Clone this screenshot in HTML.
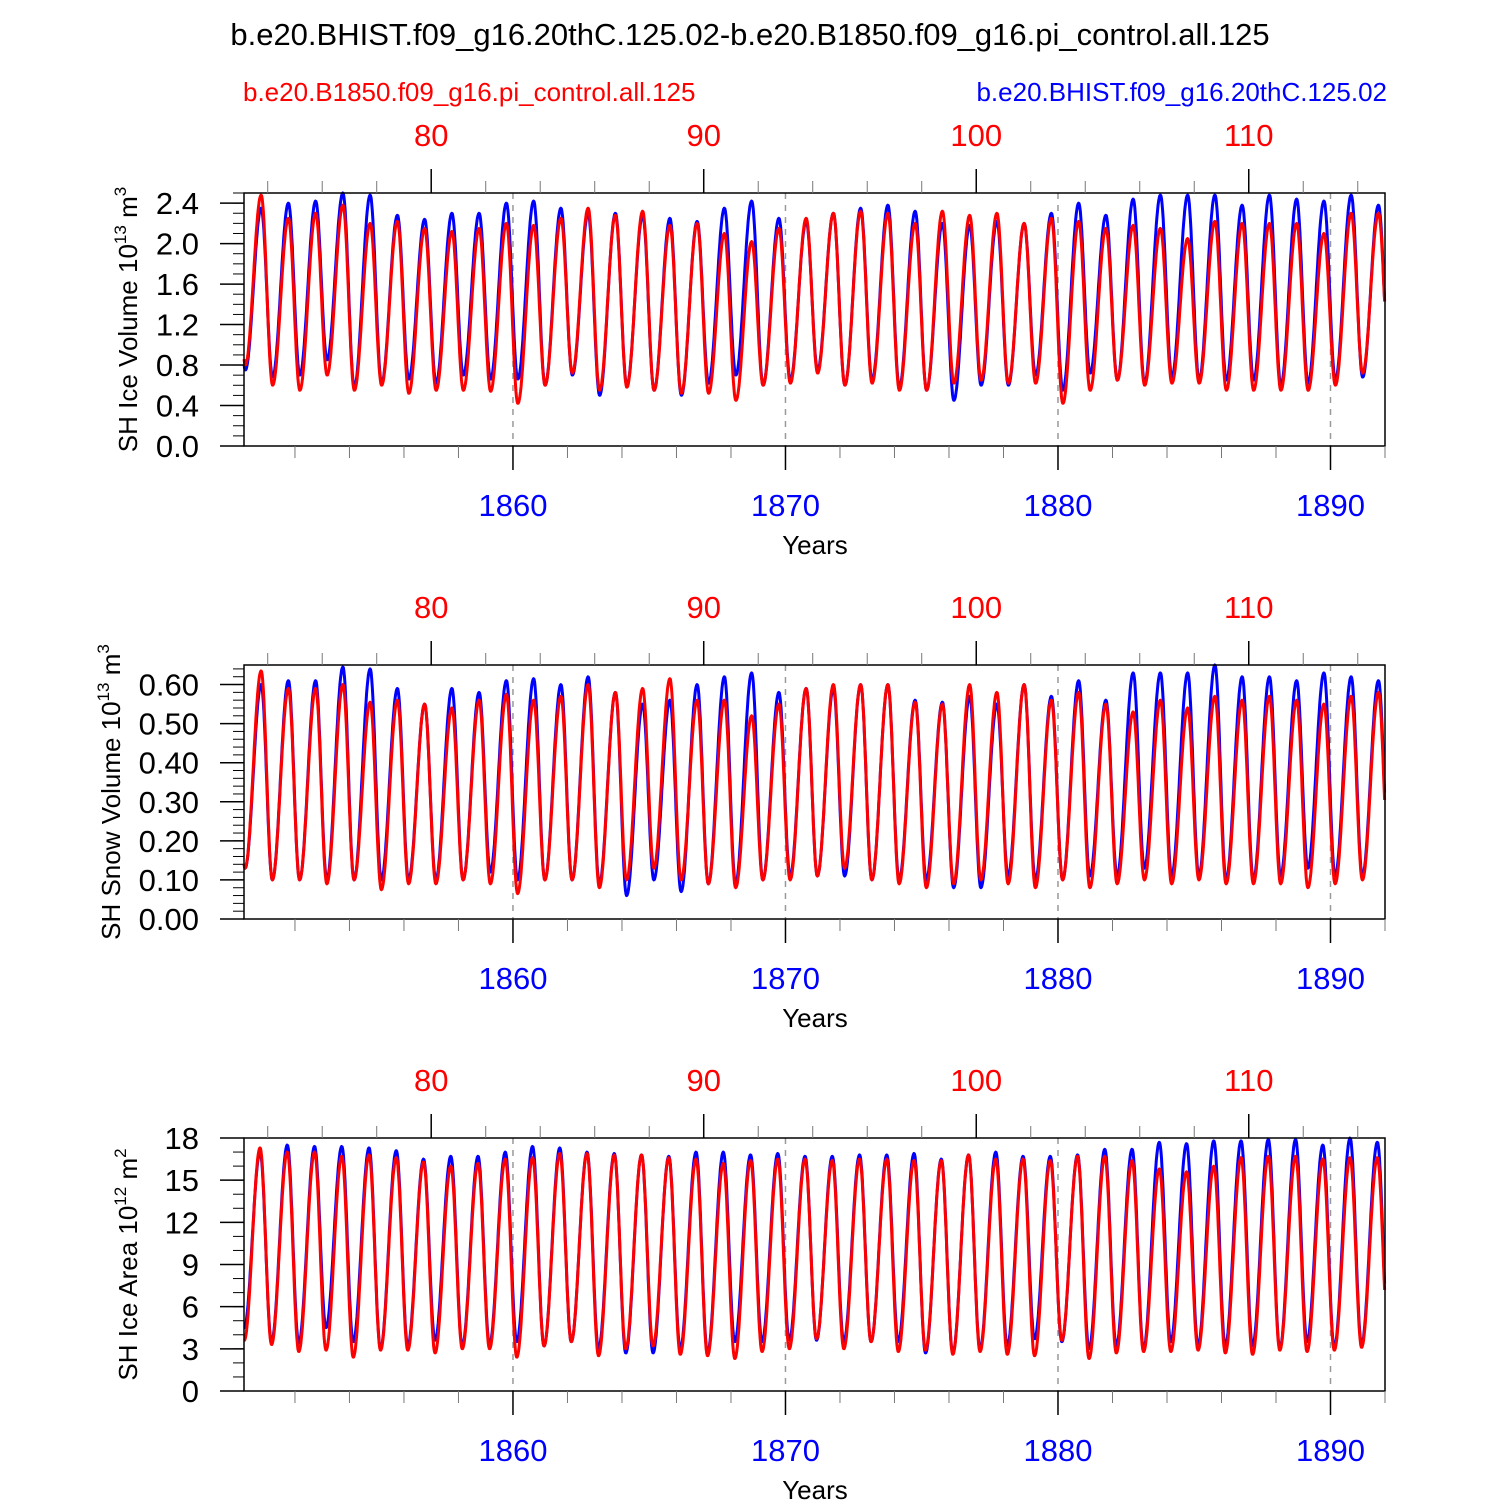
<!DOCTYPE html>
<html><head><meta charset="utf-8"><style>
body{margin:0;background:#fff;}
svg{display:block;font-family:"Liberation Sans",sans-serif;}
</style></head><body>
<svg id="chart" width="1500" height="1500" viewBox="0 0 1500 1500">
<text x="750" y="45" font-size="31" text-anchor="middle">b.e20.BHIST.f09_g16.20thC.125.02-b.e20.B1850.f09_g16.pi_control.all.125</text>
<text x="243" y="101" font-size="26" fill="#ff0000">b.e20.B1850.f09_g16.pi_control.all.125</text>
<text x="1387" y="101" font-size="26" fill="#0000ff" text-anchor="end">b.e20.BHIST.f09_g16.20thC.125.02</text>
</svg>
<script>
const startYear = 1850;
// yearly peak / trough values (one per year 1850..1891)
const volBluePk=[2.35,2.4,2.42,2.5,2.48,2.28,2.24,2.3,2.3,2.4,2.42,2.35,2.3,2.3,2.28,2.25,2.22,2.35,2.42,2.25,2.22,2.3,2.35,2.38,2.32,2.2,2.18,2.22,2.2,2.3,2.4,2.28,2.44,2.48,2.48,2.48,2.38,2.48,2.44,2.42,2.48,2.38];
const volRedPk=[2.48,2.25,2.3,2.38,2.2,2.22,2.15,2.12,2.15,2.2,2.18,2.25,2.35,2.28,2.32,2.18,2.2,2.1,2.02,2.15,2.25,2.3,2.32,2.3,2.2,2.32,2.28,2.3,2.2,2.25,2.22,2.15,2.18,2.15,2.05,2.22,2.2,2.2,2.2,2.1,2.3,2.3];
const volBlueTr=[0.75,0.68,0.7,0.85,0.58,0.62,0.66,0.62,0.7,0.66,0.66,0.6,0.7,0.5,0.6,0.55,0.5,0.62,0.7,0.6,0.65,0.75,0.6,0.65,0.58,0.55,0.45,0.6,0.6,0.7,0.55,0.72,0.65,0.62,0.68,0.65,0.65,0.65,0.6,0.62,0.65,0.68];
const volRedTr=[0.8,0.6,0.55,0.7,0.55,0.6,0.52,0.55,0.55,0.54,0.42,0.6,0.72,0.55,0.58,0.55,0.52,0.52,0.45,0.6,0.62,0.72,0.6,0.62,0.55,0.55,0.62,0.65,0.62,0.62,0.42,0.55,0.65,0.6,0.62,0.62,0.55,0.55,0.55,0.55,0.6,0.72];
const snowBluePk=[0.6,0.61,0.61,0.645,0.64,0.59,0.55,0.59,0.58,0.61,0.615,0.6,0.62,0.58,0.55,0.56,0.6,0.62,0.63,0.58,0.59,0.59,0.6,0.6,0.56,0.555,0.57,0.55,0.6,0.57,0.61,0.56,0.63,0.63,0.63,0.65,0.62,0.62,0.61,0.63,0.62,0.61];
const snowRedPk=[0.635,0.59,0.59,0.6,0.555,0.56,0.55,0.54,0.56,0.575,0.56,0.57,0.6,0.58,0.59,0.615,0.56,0.56,0.52,0.55,0.59,0.6,0.6,0.6,0.555,0.55,0.6,0.58,0.6,0.56,0.58,0.55,0.53,0.56,0.54,0.57,0.56,0.57,0.56,0.55,0.57,0.58];
const snowBlueTr=[0.13,0.1,0.1,0.1,0.1,0.1,0.1,0.1,0.1,0.12,0.1,0.1,0.1,0.09,0.06,0.1,0.07,0.09,0.09,0.1,0.11,0.11,0.11,0.1,0.1,0.1,0.08,0.08,0.11,0.1,0.1,0.11,0.11,0.13,0.11,0.11,0.1,0.1,0.11,0.13,0.11,0.11];
const snowRedTr=[0.13,0.1,0.1,0.09,0.1,0.075,0.09,0.09,0.1,0.09,0.065,0.1,0.1,0.08,0.1,0.13,0.1,0.09,0.08,0.1,0.1,0.11,0.13,0.1,0.09,0.08,0.09,0.1,0.09,0.08,0.1,0.08,0.09,0.1,0.09,0.1,0.09,0.09,0.09,0.08,0.09,0.1];
const areaBluePk=[17.0,17.5,17.4,17.4,17.3,17.1,16.5,16.7,16.7,17.0,17.4,17.3,17.0,16.9,16.8,16.7,17.0,17.0,16.8,16.9,16.7,16.7,16.8,16.8,16.9,16.5,16.8,17.0,16.7,16.7,16.8,17.2,17.2,17.7,17.6,17.8,17.8,17.9,17.9,17.5,18.0,17.7];
const areaRedPk=[17.3,17.0,17.0,16.7,16.8,16.6,16.3,16.0,16.2,16.5,16.6,16.9,16.9,16.8,16.8,16.6,16.5,16.2,16.4,16.5,16.5,16.4,16.5,16.5,16.4,16.4,16.8,16.5,16.5,16.4,16.7,16.7,16.4,15.8,15.6,16.0,16.6,16.7,16.7,16.5,16.6,16.6];
const areaBlueTr=[4.5,3.5,3.4,4.5,3.5,3.0,3.2,3.6,3.2,3.3,3.5,3.2,3.5,3.0,2.7,2.7,3.0,2.7,3.5,3.5,3.6,3.6,3.5,3.5,3.5,2.7,2.7,3.0,3.2,3.7,3.5,3.0,3.2,3.0,3.5,3.2,3.2,3.2,3.0,3.5,3.1,3.3];
const areaRedTr=[3.6,3.3,2.8,2.9,2.4,2.9,2.9,2.7,3.0,3.0,2.4,3.2,3.5,2.5,3.0,3.2,2.6,2.5,2.3,2.8,3.0,3.7,3.0,3.5,2.8,2.9,2.6,2.8,2.6,2.5,3.6,2.3,2.7,2.8,2.8,2.9,2.7,2.6,2.9,2.8,2.9,3.1];
const bottomTicks=[1860,1870,1880,1890];
const topTicks=[80,90,100,110];
const panels=[
 {top:193,bottom:446,ymax:2.5,yTicks:[0,0.4,0.8,1.2,1.6,2.0,2.4],yMinor:0.1,dec:1,label:"SH Ice Volume 10",sup:"13",unit:" m",usup:"3",blueP:volBluePk,blueT:volBlueTr,redP:volRedPk,redT:volRedTr,tr:0.18,pk:0.76,name:"ice-volume"},
 {top:665,bottom:919,ymax:0.65,yTicks:[0,0.1,0.2,0.3,0.4,0.5,0.6],yMinor:0.02,dec:2,label:"SH Snow Volume 10",sup:"13",unit:" m",usup:"3",blueP:snowBluePk,blueT:snowBlueTr,redP:snowRedPk,redT:snowRedTr,tr:0.17,pk:0.76,name:"snow-volume"},
 {top:1138,bottom:1391,ymax:18,yTicks:[0,3,6,9,12,15,18],yMinor:1,dec:0,label:"SH Ice Area 10",sup:"12",unit:" m",usup:"2",blueP:areaBluePk,blueT:areaBlueTr,redP:areaRedPk,redT:areaRedTr,tr:0.14,pk:0.72,name:"ice-area"}
];
const X0=244,X1=1385,YMIN=1850.13,YMAX=1892.0,TOPOFF=1777;
const xs=y=>X0+(y-YMIN)/(YMAX-YMIN)*(X1-X0);
const svg=document.getElementById('chart');
const NS='http://www.w3.org/2000/svg';
function mk(tag,attrs,parent){const e=document.createElementNS(NS,tag);for(const k in attrs)e.setAttribute(k,attrs[k]);(parent||svg).appendChild(e);return e;}
function series(P,T,p){
  const n=P.length;
  const ex=[[startYear-1+p.pk,P[0]]];
  for(let i=0;i<n;i++){ex.push([startYear+i+p.tr,T[i]]);ex.push([startYear+i+p.pk,P[i]]);}
  ex.push([startYear+n+p.tr,T[n-1]]);
  const pts=[];
  for(let t=YMIN;t<=YMAX+1e-6;t+=1/48){
    let k=0;while(k<ex.length-2&&ex[k+1][0]<t)k++;
    const a=ex[k],b=ex[k+1];
    const f=Math.max(0,Math.min(1,(t-a[0])/(b[0]-a[0])));
    pts.push([t,a[1]+(b[1]-a[1])*(1-Math.cos(Math.PI*f))/2]);
  }
  return pts;
}
panels.forEach((p,pi)=>{
  const ys=v=>p.bottom-v/p.ymax*(p.bottom-p.top);
  const g=mk('g',{});
  
  
  bottomTicks.forEach(t=>{const l=mk('line',{x1:xs(t),x2:xs(t),y1:p.top,y2:p.bottom,stroke:'#999','stroke-width':1.5,'stroke-dasharray':'6,6'},g);
    });
  [['blue',p.blueP,p.blueT,'#0000ff'],['red',p.redP,p.redT,'#ff0000']].forEach(s=>{
    const pts=series(s[1],s[2],p);
    const d=pts.map((q,i)=>(i?'L':'M')+xs(q[0]).toFixed(1)+','+ys(q[1]).toFixed(1)).join('');
    const path=mk('path',{d:d,fill:'none',stroke:s[3],'stroke-width':3,'stroke-linejoin':'round'},g);
    
    
  });
  const r=mk('rect',{x:X0,y:p.top,width:X1-X0,height:p.bottom-p.top,fill:'none',stroke:'#000','stroke-width':1.5},g);
  
  for(let v=0;v<=p.ymax+1e-9;v+=p.yMinor){mk('line',{x1:X0-11,x2:X0,y1:ys(v),y2:ys(v),stroke:'#000','stroke-width':1},g);}
  p.yTicks.forEach(v=>{
    mk('line',{x1:X0-24,x2:X0,y1:ys(v),y2:ys(v),stroke:'#000','stroke-width':1.5},g);
    const t=mk('text',{x:X0-45,y:ys(v)+11,'font-size':31,'text-anchor':'end'},g);t.textContent=v.toFixed(p.dec);
    
  });
  const cy=(p.top+p.bottom)/2;
  const yt=mk('text',{x:0,y:0,'font-size':26,'text-anchor':'middle',transform:`translate(${pi==1?120:137},${cy}) rotate(-90)`},g);
  yt.innerHTML=p.label+'<tspan dy="-11" font-size="17">'+p.sup+'</tspan><tspan dy="11">'+p.unit+'</tspan><tspan dy="-11" font-size="17">'+p.usup+'</tspan>';
  
  for(let y=1852;y<=1892;y+=2){const maj=y%10==0;mk('line',{x1:xs(y),x2:xs(y),y1:p.bottom,y2:p.bottom+(maj?24:12),stroke:maj?'#000':'#777','stroke-width':maj?1.5:1},g);}
  bottomTicks.forEach(y=>{const t=mk('text',{x:xs(y),y:p.bottom+70,'font-size':31,fill:'#0000ff','text-anchor':'middle'},g);t.textContent=y;
    });
  const xt=mk('text',{x:815,y:p.bottom+108,'font-size':26,'text-anchor':'middle'},g);xt.textContent='Years';
  
  for(let y=74;y<=114;y+=2){const maj=y%10==0;const x=xs(y+TOPOFF);if(x>X1+1)continue;mk('line',{x1:x,x2:x,y1:p.top,y2:p.top-(maj?24:12),stroke:maj?'#000':'#777','stroke-width':maj?1.5:1},g);}
  topTicks.forEach(y=>{const t=mk('text',{x:xs(y+TOPOFF),y:p.top-47,'font-size':31,fill:'#ff0000','text-anchor':'middle'},g);t.textContent=y;
    });
});
</script>
</body></html>
